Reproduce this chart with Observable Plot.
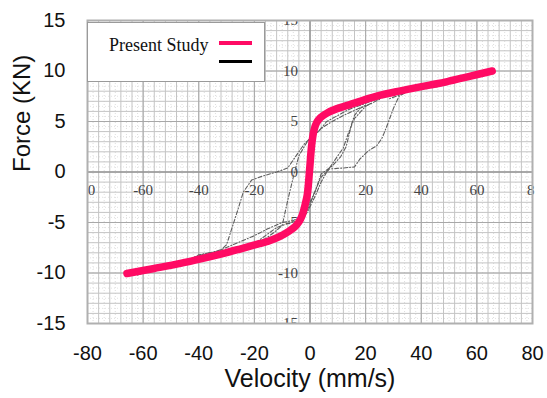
<!DOCTYPE html>
<html>
<head>
<meta charset="utf-8">
<script src="https://cdn.jsdelivr.net/npm/d3@7"></script>
<script src="https://cdn.jsdelivr.net/npm/@observablehq/plot@0.6"></script>
<style>
  html, body { margin: 0; padding: 0; background: #fff; }
  #wrap { position: relative; width: 547px; height: 398px; }
  #legend {
    position: absolute; left: 87px; top: 22px; width: 176px; height: 58px;
    background: #fff; border: 1.5px solid #9a9a9a; box-sizing: content-box;
    font-family: "Liberation Serif", "Times New Roman", serif; font-size: 18px; color: #111;
  }
  #legend .lbl { position: absolute; left: 21px; top: 12px; line-height: 20px; }
  #legend .sw { position: absolute; left: 131px; width: 33px; }
</style>
</head>
<body>
<div id="wrap">
  <div id="chart"></div>
  <div id="legend">
    <span class="lbl">Present Study</span>
    <div class="sw" style="top:18px;height:4px;background:#ff0a64;"></div>
    <div class="sw" style="top:37px;height:3px;background:#000;"></div>
  </div>
</div>
<script>
// ---- Present study (pink) curve ----
const studyVelocity = [-65.8,-56,-46.6,-38.5,-31,-25.5,-20.2,-15,-10.6,-7.5,-5.5,-4,-2.8,-1.9,-1.0,-0.6,-0.3,0.0,0.3,0.7,1.4,2.4,3.8,6.2,9.5,13.4,19,25.4,31,37.3,43,49.4,57,65.5];
const studyForce    = [-10.05,-9.55,-9.05,-8.55,-8.05,-7.65,-7.25,-6.85,-6.35,-5.85,-5.45,-4.95,-4.3,-3.4,-2.3,-1.3,-0.3,0.7,1.8,2.9,4.1,4.9,5.4,5.85,6.25,6.6,7.1,7.6,7.95,8.3,8.6,8.95,9.45,10.0];

// ---- Experimental (grey dashed) loops from the background figure ----
const exp1V = [-40,-33,-30,-28,-26,-24,-21,-17,-12,-8,-5,-2,0,3,6,10,14,20,26,32,40];
const exp1F = [-8.3,-8.0,-7.2,-5.5,-3.8,-2.0,-0.8,-0.4,0.0,0.4,1.6,2.8,3.3,4.0,5.0,5.6,6.2,6.8,7.4,7.9,8.5];
const exp2V = [40,35,32,30,28,26,24,21,18,16,12,7,4,2,0,-3,-6,-10,-15,-20,-26,-32,-40];
const exp2F = [8.5,8.0,7.5,6.3,4.8,3.4,2.6,2.1,1.3,0.5,0.4,0.3,-0.5,-1.8,-3.0,-4.4,-4.8,-5.0,-5.6,-6.3,-7.0,-7.7,-8.3];
const exp3V = [-20,-16,-13,-10,-8,-6,-4,-1,2,5,8,12,16,20];
const exp3F = [-7.0,-6.6,-6.0,-5.3,-2.8,-0.5,1.6,3.0,3.8,4.5,5.0,5.6,6.1,6.6];
const exp4V = [22,18,16,15,13,11,8,6,4,2,0,-2,-5,-8,-12,-16,-20];
const exp4F = [6.8,6.3,5.6,4.8,2.5,1.5,0.6,0.2,-0.2,-1.8,-3.2,-4.4,-4.9,-5.1,-5.5,-6.3,-7.1];
const exp5V = [-62,-56,-50,-45,-40,-36,-32];
const exp5F = [-10.2,-9.6,-9.3,-8.9,-8.2,-8.0,-7.8];
const exp6V = [56,50,45,40,36,32,28];
const exp6F = [9.2,8.7,8.4,8.3,8.0,7.6,7.2];
const exp7V = [-4,-1,2,4,6,9,12,14,16,20,25];
const exp7F = [-5.0,-4.0,-2.3,-1.0,0.0,1.2,2.4,4.0,5.3,6.5,7.2];

// ---- Axis ticks ----
const xTicks = [-80,-60,-40,-20,0,20,40,60,80];
const yTicks = [-15,-10,-5,0,5,10,15];

// ---- Inner (scanned) axis labels ----
const innerXPos  = [-78.6,-60,-40,-20,20,40,60,79.4];
const innerXText = ["0","-60","-40","-20","20","40","60","8"];
const innerYVals = [15,10,5,0,-5,-10,-15];

// grid positions of the background graph paper
const gridX = d3.range(-80, 81, 4);
const gridXMajor = [-60,-40,-20,0,20,40,60];
const gridXMinor = d3.range(-78, 80, 4);
const gridY = d3.range(-14, 15, 1);
const gridYMajor = [-10,-5,0,5,10];
const gridYMinor = d3.range(-14.5, 15, 1);

const zip = (V, F) => V.map((v, i) => ({v, f: F[i]}));
const study = zip(studyVelocity, studyForce);
const exps = [zip(exp1V,exp1F), zip(exp2V,exp2F), zip(exp3V,exp3F), zip(exp4V,exp4F),
              zip(exp5V,exp5F), zip(exp6V,exp6F), zip(exp7V,exp7F)];

const fmt = d => String(d);

const plot = Plot.plot({
  width: 547,
  height: 398,
  marginLeft: 87,
  marginRight: 15,
  marginTop: 20,
  marginBottom: 75,
  style: {fontFamily: "'Liberation Sans', Arial, sans-serif", fontSize: "20px", color: "#111", background: "#fff"},
  x: {domain: [-80, 80], ticks: xTicks, tickSize: 0, tickPadding: 22, tickFormat: fmt, label: null},
  y: {domain: [-15, 15], ticks: yTicks, tickSize: 0, tickPadding: 22, tickFormat: fmt, label: null},
  marks: [
    Plot.ruleX(gridXMinor, {stroke: "#d6d6d6", strokeWidth: 0.8, strokeDasharray: "1,2"}),
    Plot.ruleY(gridYMinor, {stroke: "#dcdcdc", strokeWidth: 0.8, strokeDasharray: "1,2"}),
    Plot.ruleX(gridX, {stroke: "#c4c4c4", strokeWidth: 1}),
    Plot.ruleY(gridY, {stroke: "#c4c4c4", strokeWidth: 1}),
    Plot.ruleX(gridXMajor, {stroke: "#a8a8a8", strokeWidth: 1}),
    Plot.ruleY(gridYMajor, {stroke: "#a8a8a8", strokeWidth: 1}),
    Plot.ruleY([0], {stroke: "#8a8a8a", strokeWidth: 1}),
    Plot.ruleX([0], {stroke: "#8a8a8a", strokeWidth: 1}),
    Plot.text(innerXPos, {x: d => d, y: -1.8, text: (d, i) => innerXText[i],
      fontFamily: "'Liberation Serif', 'Times New Roman', serif", fontSize: 15, fill: "#444"}),
    Plot.text(innerYVals, {x: -4.3, y: d => d, text: d => String(d), textAnchor: "end", clip: true,
      fontFamily: "'Liberation Serif', 'Times New Roman', serif", fontSize: 15, fill: "#444"}),
    ...exps.map(e => Plot.line(e, {x: "v", y: "f", stroke: "#5e5e5e", strokeWidth: 1.1, strokeDasharray: "4,2,1,2"})),
    Plot.line(study, {x: "v", y: "f", stroke: "#ff0a64", strokeWidth: 7.5, curve: "catmull-rom", strokeLinecap: "round", strokeLinejoin: "round"}),
    Plot.frame({stroke: "#b0b0b0", strokeWidth: 2}),
    Plot.text(["Velocity (mm/s)"], {frameAnchor: "bottom", dy: 63, text: d => d, fontSize: 25, fill: "#111",
      fontFamily: "'Liberation Sans', Arial, sans-serif"}),
    Plot.text(["Force (KN)"], {frameAnchor: "left", dx: -65, rotate: -90, text: d => d, fontSize: 24, fill: "#111",
      fontFamily: "'Liberation Sans', Arial, sans-serif"})
  ]
});
document.getElementById("chart").appendChild(plot);
</script>
</body>
</html>
